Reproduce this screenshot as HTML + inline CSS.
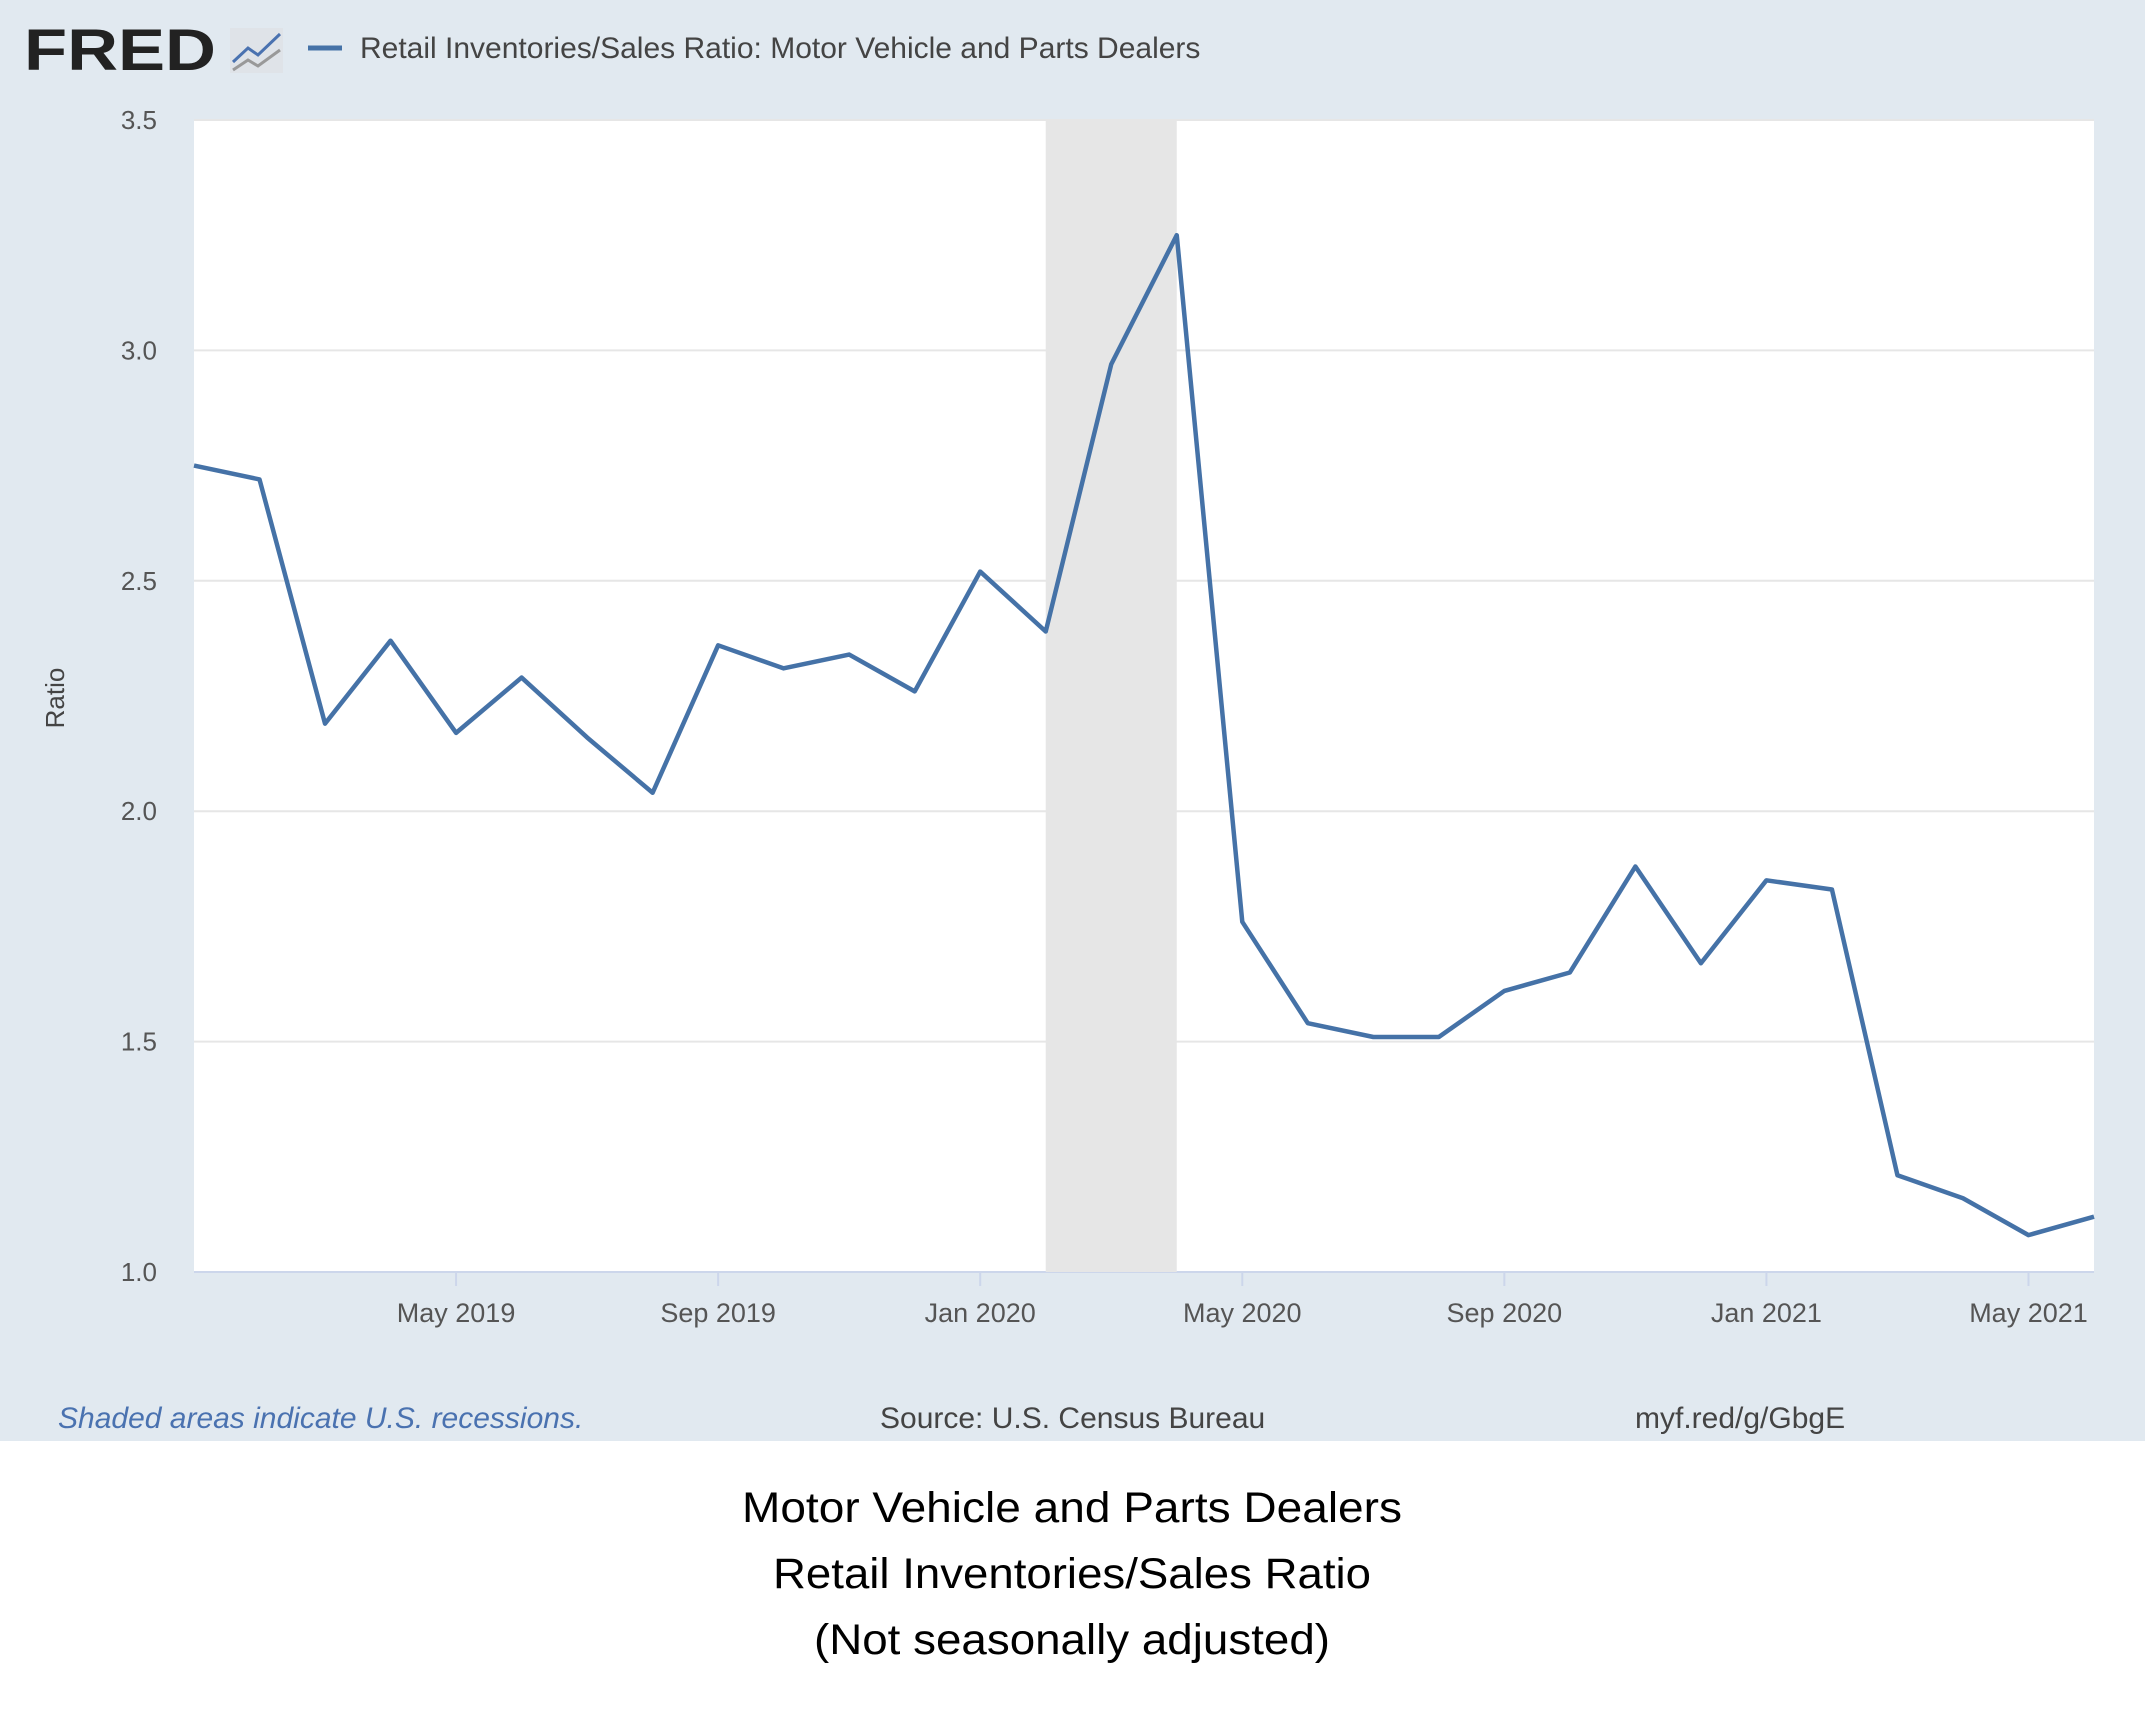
<!DOCTYPE html>
<html><head><meta charset="utf-8"><style>
body{margin:0;width:2145px;height:1730px;background:#fff;overflow:hidden;font-family:"Liberation Sans",sans-serif}
</style></head><body>
<svg width="2145" height="1730">
<rect x="0" y="0" width="2145" height="1441" fill="#e1e9f0"/>
<g>
<text x="24" y="70" font-size="58" font-weight="bold" fill="#222" textLength="192" lengthAdjust="spacingAndGlyphs" font-family="Liberation Sans">FRED</text>
<rect x="230" y="28" width="53" height="45" fill="#dfe3e8"/>
<polyline points="233,62 248,48 258,55 280,34" fill="none" stroke="#4a72b0" stroke-width="3"/>
<polyline points="233,70 248,60 258,66 280,50" fill="none" stroke="#999" stroke-width="3"/>
</g>
<line x1="308" y1="48" x2="342" y2="48" stroke="#4572a7" stroke-width="5"/>
<text x="360" y="58" font-size="30" fill="#444">Retail Inventories/Sales Ratio: Motor Vehicle and Parts Dealers</text>
<rect x="194" y="120" width="1900" height="1152" fill="#fff"/>
<g id="grid"></g>
<g id="rec"></g>
<g id="axes"></g>
<polyline id="line" fill="none" stroke="#4572a7" stroke-width="4.5" stroke-linejoin="round"/>
<text transform="translate(64,698) rotate(-90)" text-anchor="middle" font-size="26" fill="#444">Ratio</text>
<text x="58" y="1428" font-size="30" font-style="italic" fill="#4a72b0">Shaded areas indicate U.S. recessions.</text>
<text x="880" y="1428" font-size="30" fill="#444">Source: U.S. Census Bureau</text>
<text x="1635" y="1428" font-size="30" fill="#444">myf.red/g/GbgE</text>
<g font-family="Liberation Sans" font-size="43" fill="#000" text-anchor="middle">
<text x="1072" y="1522" textLength="660" lengthAdjust="spacingAndGlyphs">Motor Vehicle and Parts Dealers</text>
<text x="1072" y="1588" textLength="598" lengthAdjust="spacingAndGlyphs">Retail Inventories/Sales Ratio</text>
<text x="1072" y="1654" textLength="516" lengthAdjust="spacingAndGlyphs">(Not seasonally adjusted)</text>
</g>
</svg>
<script>
const values=[2.75,2.72,2.19,2.37,2.17,2.29,2.16,2.04,2.36,2.31,2.34,2.26,2.52,2.39,2.97,3.25,1.76,1.54,1.51,1.51,1.61,1.65,1.88,1.67,1.85,1.83,1.21,1.16,1.08,1.12];
const yTicks=[1.0,1.5,2.0,2.5,3.0,3.5];
const xTickLabels=["May 2019","Sep 2019","Jan 2020","May 2020","Sep 2020","Jan 2021","May 2021"];
const xTickIdx=[4,8,12,16,20,24,28];
const recession=[13,15];
const L=194,R=2094,T=120,B=1272;
const x=i=>L+(R-L)*i/(values.length-1);
const y=v=>B-(v-1.0)/(3.5-1.0)*(B-T);
const ns="http://www.w3.org/2000/svg";
function mk(t,a,p){const e=document.createElementNS(ns,t);for(const k in a)e.setAttribute(k,a[k]);document.getElementById(p).appendChild(e);return e;}
yTicks.forEach(v=>{
 const g=mk('line',{x1:L,x2:R,y1:y(v),y2:y(v),stroke:v==1?'#ccd6eb':'#e6e6e6','stroke-width':2},'grid');
 
 
 const t=mk('text',{x:157,y:y(v)+9,'text-anchor':'end','font-size':26,fill:'#555'},'axes');
 t.textContent=v.toFixed(1);
 
 
});
const r=mk('rect',{x:x(recession[0]),y:T,width:x(recession[1])-x(recession[0]),height:B-T,fill:'#e6e6e6'},'rec');


xTickIdx.forEach((i,k)=>{
 const l=mk('line',{x1:x(i),x2:x(i),y1:B,y2:B+14,stroke:'#ccd6eb','stroke-width':2},'axes');
 
 
 const t=mk('text',{x:x(i),y:1322,'text-anchor':'middle','font-size':27,fill:'#555'},'axes');
 t.textContent=xTickLabels[k];
 
 
});
document.getElementById('line').setAttribute('points',values.map((v,i)=>x(i)+','+y(v)).join(' '));
</script>
</body></html>
